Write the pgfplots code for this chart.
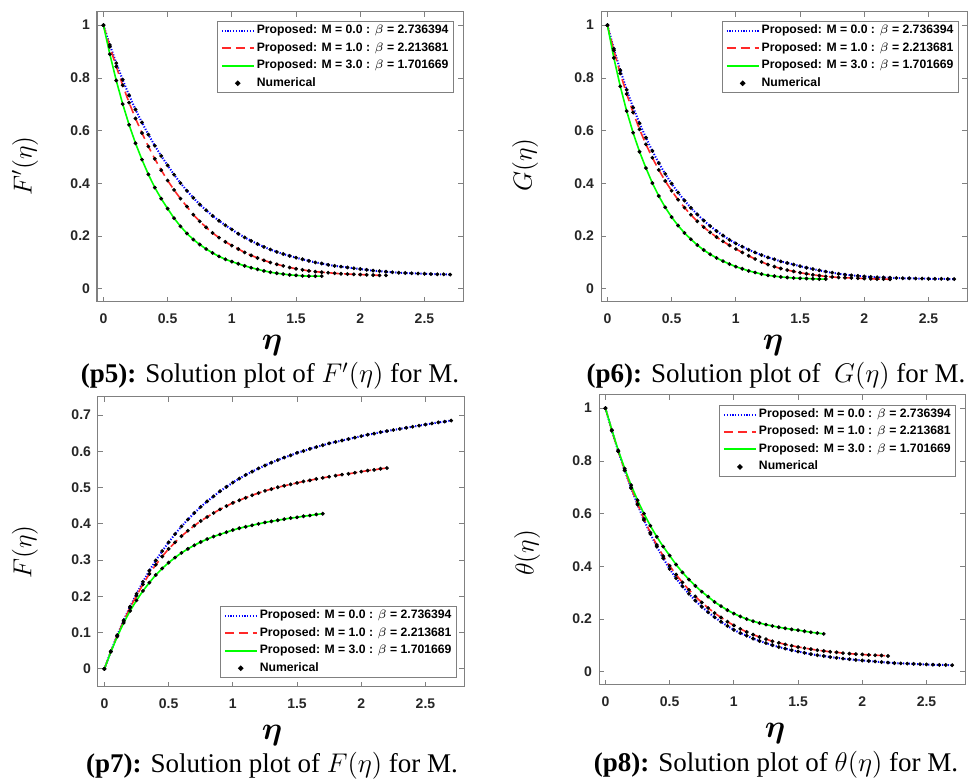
\RequirePackage{fix-cm}
\documentclass[border=0pt]{standalone}
\usepackage{fontspec}
\usepackage{bm}
\setmainfont{Liberation Serif}
\newfontfamily\arialb{Liberation Sans}
\usepackage{pgfplots}
\usepackage{pgfplotstable}
\pgfplotsset{compat=1.18}

\definecolor{framegray}{HTML}{808080}
\definecolor{tickgray}{HTML}{262626}
\definecolor{mblue}{RGB}{0,0,255}
\definecolor{mred}{RGB}{255,40,40}
\definecolor{mgreen}{RGB}{0,255,0}

% F'(eta), panel p5
\pgfplotstableread{
x b r g
0.00 1.000 1.000 1.000
0.05 0.925 0.918 0.890
0.10 0.856 0.843 0.790
0.15 0.793 0.772 0.701
0.20 0.734 0.706 0.622
0.25 0.680 0.646 0.552
0.30 0.631 0.591 0.490
0.35 0.585 0.540 0.434
0.40 0.543 0.493 0.384
0.45 0.504 0.450 0.342
0.50 0.468 0.411 0.304
0.55 0.433 0.375 0.268
0.60 0.401 0.342 0.237
0.65 0.372 0.312 0.210
0.70 0.345 0.281 0.187
0.75 0.320 0.256 0.168
0.80 0.298 0.233 0.151
0.85 0.277 0.212 0.136
0.90 0.258 0.194 0.123
0.95 0.241 0.178 0.112
1.00 0.225 0.164 0.103
1.05 0.209 0.151 0.095
1.10 0.195 0.138 0.087
1.15 0.182 0.127 0.080
1.20 0.170 0.117 0.074
1.25 0.159 0.108 0.068
1.30 0.149 0.100 0.063
1.35 0.140 0.093 0.059
1.40 0.132 0.087 0.056
1.45 0.125 0.081 0.053
1.50 0.118 0.076 0.051
1.55 0.112 0.072 0.049
1.60 0.106 0.068 0.048
1.65 0.100 0.065 0.048
1.70 0.096 0.063 0.048
1.75 0.091 0.061 nan
1.80 0.087 0.059 nan
1.85 0.084 0.057 nan
1.90 0.081 0.056 nan
1.95 0.078 0.055 nan
2.00 0.075 0.054 nan
2.05 0.072 0.053 nan
2.10 0.069 0.052 nan
2.15 0.067 0.051 nan
2.20 0.065 0.051 nan
2.25 0.063 nan nan
2.30 0.061 nan nan
2.35 0.060 nan nan
2.40 0.059 nan nan
2.45 0.058 nan nan
2.50 0.057 nan nan
2.55 0.056 nan nan
2.60 0.055 nan nan
2.65 0.055 nan nan
2.70 0.054 nan nan
}\tfive

% G(eta), panel p6
\pgfplotstableread{
x b r g
0.00 1.000 1.000 1.000
0.05 0.910 0.904 0.876
0.10 0.829 0.817 0.768
0.15 0.755 0.739 0.674
0.20 0.688 0.669 0.592
0.25 0.628 0.605 0.520
0.30 0.573 0.548 0.458
0.35 0.523 0.497 0.401
0.40 0.477 0.451 0.352
0.45 0.436 0.409 0.309
0.50 0.399 0.372 0.272
0.55 0.365 0.338 0.240
0.60 0.335 0.308 0.212
0.65 0.307 0.281 0.188
0.70 0.282 0.256 0.166
0.75 0.259 0.234 0.147
0.80 0.238 0.214 0.131
0.85 0.219 0.196 0.117
0.90 0.202 0.180 0.105
0.95 0.186 0.165 0.094
1.00 0.172 0.151 0.084
1.05 0.160 0.138 0.076
1.10 0.148 0.125 0.068
1.15 0.138 0.113 0.062
1.20 0.128 0.102 0.056
1.25 0.119 0.092 0.051
1.30 0.112 0.084 0.048
1.35 0.104 0.077 0.045
1.40 0.098 0.071 0.043
1.45 0.092 0.066 0.041
1.50 0.086 0.061 0.040
1.55 0.080 0.057 0.039
1.60 0.075 0.053 0.038
1.65 0.070 0.050 0.037
1.70 0.065 0.047 0.037
1.75 0.061 0.045 nan
1.80 0.057 0.043 nan
1.85 0.054 0.042 nan
1.90 0.051 0.041 nan
1.95 0.049 0.040 nan
2.00 0.047 0.039 nan
2.05 0.045 0.038 nan
2.10 0.044 0.037 nan
2.15 0.043 0.037 nan
2.20 0.042 0.036 nan
2.25 0.041 nan nan
2.30 0.040 nan nan
2.35 0.040 nan nan
2.40 0.039 nan nan
2.45 0.039 nan nan
2.50 0.038 nan nan
2.55 0.038 nan nan
2.60 0.038 nan nan
2.65 0.037 nan nan
2.70 0.037 nan nan
}\tsix

% F(eta), panel p7
\pgfplotstableread{
x b r g
0.00 0.000 0.000 0.000
0.05 0.048 0.048 0.047
0.10 0.093 0.092 0.089
0.15 0.134 0.132 0.127
0.20 0.172 0.169 0.160
0.25 0.207 0.202 0.189
0.30 0.240 0.233 0.215
0.35 0.271 0.262 0.238
0.40 0.299 0.287 0.259
0.45 0.325 0.310 0.277
0.50 0.349 0.331 0.293
0.55 0.372 0.349 0.307
0.60 0.393 0.366 0.320
0.65 0.412 0.381 0.331
0.70 0.430 0.395 0.341
0.75 0.447 0.408 0.350
0.80 0.462 0.419 0.358
0.85 0.476 0.430 0.365
0.90 0.490 0.440 0.371
0.95 0.502 0.449 0.377
1.00 0.514 0.458 0.383
1.05 0.525 0.465 0.388
1.10 0.535 0.472 0.392
1.15 0.544 0.479 0.396
1.20 0.553 0.485 0.400
1.25 0.561 0.491 0.404
1.30 0.569 0.496 0.407
1.35 0.576 0.501 0.410
1.40 0.583 0.505 0.413
1.45 0.589 0.509 0.416
1.50 0.596 0.513 0.418
1.55 0.601 0.517 0.421
1.60 0.607 0.520 0.423
1.65 0.612 0.524 0.426
1.70 0.617 0.527 0.428
1.75 0.622 0.530 nan
1.80 0.626 0.533 nan
1.85 0.630 0.536 nan
1.90 0.634 0.538 nan
1.95 0.638 0.541 nan
2.00 0.642 0.544 nan
2.05 0.646 0.547 nan
2.10 0.649 0.549 nan
2.15 0.653 0.552 nan
2.20 0.656 0.554 nan
2.25 0.659 nan nan
2.30 0.662 nan nan
2.35 0.665 nan nan
2.40 0.668 nan nan
2.45 0.671 nan nan
2.50 0.674 nan nan
2.55 0.677 nan nan
2.60 0.680 nan nan
2.65 0.682 nan nan
2.70 0.685 nan nan
}\tseven

% theta(eta), panel p8
\pgfplotstableread{
x b r g
0.00 1.000 1.000 1.000
0.05 0.915 0.915 0.917
0.10 0.836 0.836 0.840
0.15 0.764 0.765 0.771
0.20 0.697 0.699 0.708
0.25 0.634 0.637 0.651
0.30 0.576 0.580 0.600
0.35 0.523 0.528 0.554
0.40 0.475 0.481 0.512
0.45 0.431 0.439 0.475
0.50 0.390 0.402 0.441
0.55 0.355 0.369 0.407
0.60 0.324 0.339 0.377
0.65 0.296 0.311 0.350
0.70 0.270 0.286 0.326
0.75 0.247 0.263 0.304
0.80 0.226 0.242 0.285
0.85 0.207 0.223 0.265
0.90 0.190 0.206 0.249
0.95 0.174 0.190 0.234
1.00 0.159 0.176 0.221
1.05 0.147 0.163 0.210
1.10 0.137 0.151 0.200
1.15 0.126 0.141 0.192
1.20 0.117 0.132 0.185
1.25 0.109 0.124 0.179
1.30 0.101 0.116 0.174
1.35 0.094 0.110 0.169
1.40 0.088 0.104 0.165
1.45 0.082 0.099 0.161
1.50 0.077 0.094 0.158
1.55 0.072 0.090 0.154
1.60 0.067 0.086 0.150
1.65 0.063 0.082 0.147
1.70 0.060 0.079 0.144
1.75 0.056 0.076 nan
1.80 0.053 0.074 nan
1.85 0.050 0.071 nan
1.90 0.048 0.069 nan
1.95 0.045 0.067 nan
2.00 0.043 0.066 nan
2.05 0.041 0.064 nan
2.10 0.039 0.063 nan
2.15 0.037 0.062 nan
2.20 0.035 0.060 nan
2.25 0.033 nan nan
2.30 0.032 nan nan
2.35 0.031 nan nan
2.40 0.030 nan nan
2.45 0.029 nan nan
2.50 0.028 nan nan
2.55 0.027 nan nan
2.60 0.026 nan nan
2.65 0.026 nan nan
2.70 0.025 nan nan
}\teight

\pgfplotsset{
  panel/.style={
    scale only axis, width=183pt, height=145pt,
    xmin=-0.05, xmax=2.8, xtick={0,0.5,1,1.5,2,2.5},
    axis line style={draw=framegray, line width=0.5pt},
    tick style={draw=framegray, line width=0.4pt},
    tick align=inside, major tick length=2.5pt,
    /pgf/number format/assume math mode=true,
    ticklabel style={font=\arialb\bfseries\fontsize{7}{8}\selectfont, text=tickgray},
    xticklabel style={yshift=-2.3pt},
    legend style={draw=framegray, fill=white, line width=0.5pt,
      font=\arialb\bfseries\fontsize{6.1}{7}\selectfont, text=black,
      inner xsep=1.5pt, inner ysep=0.8pt, nodes={inner sep=1pt},
      row sep=0.8pt, cells={anchor=west}},
    legend image post style={line width=1pt},
  },
  bl/.style={draw=mblue, color=mblue, line width=1pt, dash pattern=on 0.6pt off 0.8pt, no marks},
  rd/.style={draw=mred, color=mred, line width=0.8pt, dash pattern=on 4.5pt off 2.5pt, no marks},
  gr/.style={draw=mgreen, color=mgreen, line width=0.8pt, solid, no marks},
  num/.style={only marks, mark=*, mark size=0.75pt, draw=black, fill=black,
    mark options={draw=black, fill=black}},
}
\pgfplotsset{legend image code/.code={%
  \draw[mark repeat=2,mark phase=2,#1] plot coordinates {(0pt,0pt) (8pt,0pt) (16pt,0pt)};}}

\newcommand{\legtxt}{\legend{Proposed: M = 0.0 : $\beta$ = 2.736394,
  Proposed: M = 1.0 : $\beta$ = 2.213681,
  Proposed: M = 3.0 : $\beta$ = 1.701669, Numerical}}

\begin{document}
\begin{tikzpicture}
\path[use as bounding box] (0,0) rectangle (485pt,-389.5pt);

% p5
\begin{axis}[panel, at={(48.5pt,-6pt)}, anchor=north west,
  ymin=-0.05, ymax=1.05, ytick={0,0.2,0.4,0.6,0.8,1},
  legend style={at={(0.9755,0.969)}, anchor=north east}]
\addplot[bl] table[x=x,y=b]{\tfive};
\addplot[rd] table[x=x,y=r]{\tfive};
\addplot[gr] table[x=x,y=g]{\tfive};
\addplot[num] table[x=x,y=b]{\tfive};
\addplot[num, forget plot] table[x=x,y=r]{\tfive};
\addplot[num, forget plot] table[x=x,y=g]{\tfive};
\legtxt
\end{axis}

% p6
\begin{axis}[panel, at={(300.5pt,-6pt)}, anchor=north west,
  ymin=-0.05, ymax=1.05, ytick={0,0.2,0.4,0.6,0.8,1},
  legend style={at={(0.978,0.969)}, anchor=north east}]
\addplot[bl] table[x=x,y=b]{\tsix};
\addplot[rd] table[x=x,y=r]{\tsix};
\addplot[gr] table[x=x,y=g]{\tsix};
\addplot[num] table[x=x,y=b]{\tsix};
\addplot[num, forget plot] table[x=x,y=r]{\tsix};
\addplot[num, forget plot] table[x=x,y=g]{\tsix};
\legtxt
\end{axis}

% p7
\begin{axis}[panel, at={(49pt,-198.5pt)}, anchor=north west,
  ymin=-0.05, ymax=0.75, ytick={0,0.1,0.2,0.3,0.4,0.5,0.6,0.7},
  legend style={at={(0.981,0.03)}, anchor=south east}]
\addplot[bl] table[x=x,y=b]{\tseven};
\addplot[rd] table[x=x,y=r]{\tseven};
\addplot[gr] table[x=x,y=g]{\tseven};
\addplot[num] table[x=x,y=b]{\tseven};
\addplot[num, forget plot] table[x=x,y=r]{\tseven};
\addplot[num, forget plot] table[x=x,y=g]{\tseven};
\legtxt
\end{axis}

% p8
\begin{axis}[panel, at={(299.5pt,-197.5pt)}, anchor=north west,
  ymin=-0.05, ymax=1.05, ytick={0,0.2,0.4,0.6,0.8,1},
  legend style={at={(0.976,0.967)}, anchor=north east}]
\addplot[bl] table[x=x,y=b]{\teight};
\addplot[rd] table[x=x,y=r]{\teight};
\addplot[gr] table[x=x,y=g]{\teight};
\addplot[num] table[x=x,y=b]{\teight};
\addplot[num, forget plot] table[x=x,y=r]{\teight};
\addplot[num, forget plot] table[x=x,y=g]{\teight};
\legtxt
\end{axis}

% y labels
\node[rotate=90, font=\fontsize{13}{15}\selectfont] at (12.5pt,-83pt) {$F'(\eta)$};
\node[rotate=90, font=\fontsize{13}{15}\selectfont] at (262.5pt,-82.5pt) {$G(\eta)$};
\node[rotate=90, font=\fontsize{13}{15}\selectfont] at (12.5pt,-276pt) {$F(\eta)$};
\node[rotate=90, font=\fontsize{13}{15}\selectfont] at (263.5pt,-276.5pt) {$\theta(\eta)$};

% x labels
\node[anchor=base, font=\fontsize{16}{18}\selectfont] at (136pt,-175pt) {$\bm{\eta}$};
\node[anchor=base, font=\fontsize{16}{18}\selectfont] at (386.5pt,-175pt) {$\bm{\eta}$};
\node[anchor=base, font=\fontsize{16}{18}\selectfont] at (136pt,-370pt) {$\bm{\eta}$};
\node[anchor=base, font=\fontsize{16}{18}\selectfont] at (387.5pt,-369pt) {$\bm{\eta}$};

% captions
\node[anchor=base, font=\fontsize{13.5}{15}\selectfont, inner sep=0pt] at (135pt,-191.5pt) {\textbf{(p5):} Solution plot of $F'(\eta)$ for M.};
\node[anchor=base, font=\fontsize{13.5}{15}\selectfont, inner sep=0pt] at (388pt,-191.5pt) {\textbf{(p6):} Solution plot of \ $G(\eta)$ for M.};
\node[anchor=base, font=\fontsize{13.5}{15}\selectfont, inner sep=0pt] at (136pt,-386.5pt) {\textbf{(p7):} Solution plot of $F(\eta)$ for M.};
\node[anchor=base, font=\fontsize{13.5}{15}\selectfont, inner sep=0pt] at (388pt,-386pt) {\textbf{(p8):} Solution plot of $\theta(\eta)$ for M.};
\end{tikzpicture}
\end{document}
